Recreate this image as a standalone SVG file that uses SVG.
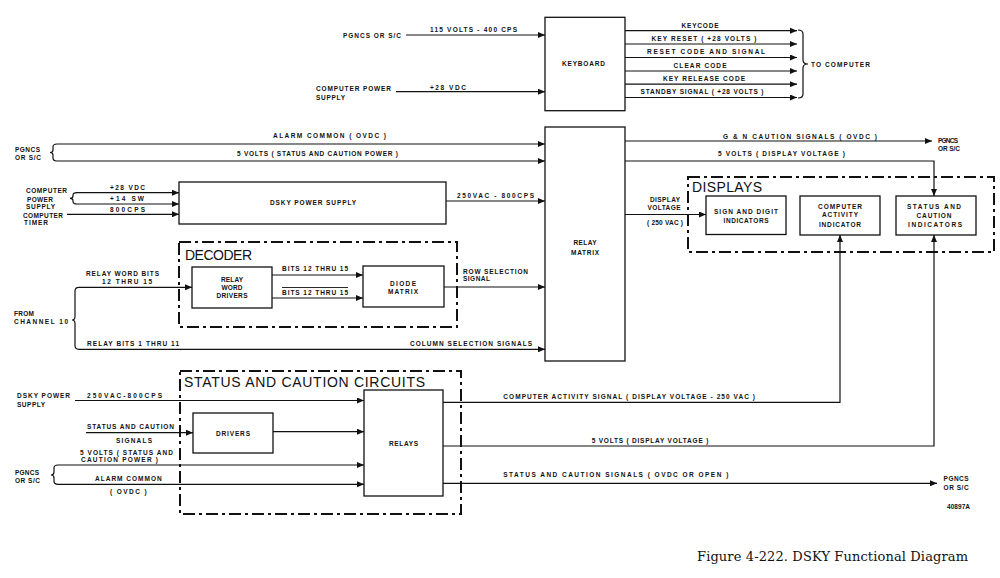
<svg xmlns="http://www.w3.org/2000/svg" width="1000" height="578" viewBox="0 0 1000 578">
<defs>
<marker id="a" markerUnits="userSpaceOnUse" markerWidth="7" markerHeight="6" refX="7" refY="3" orient="auto"><path d="M0,0 L7,3 L0,6 z" fill="#111"/></marker>
<style>
.t{font-family:"Liberation Sans",Arial,sans-serif;font-size:6.5px;font-weight:bold;fill:#111}
.m{text-anchor:middle}
.big{font-family:"Liberation Sans",Arial,sans-serif;font-size:14px;fill:#111}
.box{fill:none;stroke:#111;stroke-width:1.3}
.grp{fill:none;stroke:#111;stroke-width:2;stroke-dasharray:12 4 3 4}
.ln{fill:none;stroke:#111;stroke-width:1.2}
.ar{marker-end:url(#a)}
.cap{font-family:"DejaVu Serif","Liberation Serif",serif;font-size:13px;fill:#111}
</style>
</defs>
<rect width="1000" height="578" fill="#fff"/>

<g id="connectors">
  <line class="ln ar" x1="406" y1="35" x2="545" y2="35"/>
  <line class="ln ar" x1="396" y1="91.7" x2="545" y2="91.7"/>
  <line class="ln ar" x1="625" y1="30.7" x2="797" y2="30.7"/>
  <line class="ln ar" x1="625" y1="44" x2="797" y2="44"/>
  <line class="ln ar" x1="625" y1="57.5" x2="797" y2="57.5"/>
  <line class="ln ar" x1="625" y1="71" x2="797" y2="71"/>
  <line class="ln ar" x1="625" y1="84.2" x2="797" y2="84.2"/>
  <line class="ln ar" x1="625" y1="97.5" x2="797" y2="97.5"/>
  <path class="ln" d="M798,30 Q803,30 803,34 L803,60 Q803,64 808,64 Q803,64 803,68 L803,94 Q803,98 798,98"/>
  <path class="ln" d="M57,144 Q53,144 53,147 L53,150 Q53,152.5 50,152.5 Q53,152.5 53,155 L53,158 Q53,161 57,161"/>
  <line class="ln ar" x1="57" y1="144" x2="545" y2="144"/>
  <line class="ln ar" x1="57" y1="161" x2="545" y2="161"/>
  <line class="ln ar" x1="625" y1="141" x2="932" y2="141"/>
  <polyline class="ln ar" points="625,161 934,161 934,196"/>
  <line class="ln ar" x1="625" y1="214.5" x2="706" y2="214.5"/>
  <path class="ln" d="M77,192.7 Q73,192.7 73,195 L73,196 Q73,198.3 70,198.3 Q73,198.3 73,200.5 L73,201.5 Q73,204 77,204"/>
  <line class="ln ar" x1="77" y1="192.7" x2="179" y2="192.7"/>
  <line class="ln ar" x1="77" y1="204" x2="179" y2="204"/>
  <line class="ln ar" x1="67" y1="214.3" x2="179" y2="214.3"/>
  <line class="ln ar" x1="446" y1="201" x2="545" y2="201"/>
  <path class="ln" d="M79,287.3 Q75,287.3 75,291 L75,316.5 Q75,320 72,320 Q75,320 75,323.5 L75,345.5 Q75,349.3 79,349.3"/>
  <line class="ln ar" x1="79" y1="287.3" x2="192" y2="287.3"/>
  <line class="ln ar" x1="272" y1="275" x2="363" y2="275"/>
  <line class="ln ar" x1="272" y1="298" x2="363" y2="298"/>
  <line class="ln ar" x1="444" y1="287" x2="545" y2="287"/>
  <line class="ln ar" x1="79" y1="349.3" x2="545" y2="349.3"/>
  <line class="ln ar" x1="75" y1="400.5" x2="364" y2="400.5"/>
  <line class="ln ar" x1="86" y1="432.7" x2="193" y2="432.7"/>
  <line class="ln ar" x1="273" y1="431.7" x2="364" y2="431.7"/>
  <path class="ln" d="M58,465 Q54,465 54,468 L54,472 Q54,475 51,475 Q54,475 54,478 L54,481.3 Q54,484.3 58,484.3"/>
  <line class="ln ar" x1="58" y1="465" x2="364" y2="465"/>
  <line class="ln ar" x1="58" y1="484.3" x2="364" y2="484.3"/>
  <polyline class="ln ar" points="443,402.3 840,402.3 840,235"/>
  <polyline class="ln ar" points="443,446 934,446 934,235"/>
  <line class="ln ar" x1="443" y1="483.3" x2="937" y2="483.3"/>
</g>

<g id="keyboard">
  <rect class="box" x="545" y="17.3" width="80" height="93.4"/>
  <text class="t m" x="583.5" y="66.3" textLength="43" lengthAdjust="spacing">KEYBOARD</text>
</g>
<g id="keyboard-labels">
  <text class="t" x="343" y="38.3" textLength="58" lengthAdjust="spacing">PGNCS OR S/C</text>
  <text class="t" x="430" y="31.6" textLength="87" lengthAdjust="spacing">115 VOLTS - 400 CPS</text>
  <text class="t" x="316" y="91.3" textLength="75" lengthAdjust="spacing">COMPUTER POWER</text>
  <text class="t" x="316" y="99.6" textLength="29" lengthAdjust="spacing">SUPPLY</text>
  <text class="t" x="430" y="89.6" textLength="36" lengthAdjust="spacing">+28 VDC</text>
  <text class="t m" x="700" y="27.5" textLength="37" lengthAdjust="spacing">KEYCODE</text>
  <text class="t m" x="704" y="40.8" textLength="105" lengthAdjust="spacing">KEY RESET ( +28 VOLTS )</text>
  <text class="t m" x="706" y="54.3" textLength="118" lengthAdjust="spacing">RESET CODE AND SIGNAL</text>
  <text class="t m" x="700" y="67.8" textLength="53" lengthAdjust="spacing">CLEAR CODE</text>
  <text class="t m" x="704" y="81" textLength="82" lengthAdjust="spacing">KEY RELEASE CODE</text>
  <text class="t m" x="702" y="94.3" textLength="123" lengthAdjust="spacing">STANDBY SIGNAL ( +28 VOLTS )</text>
  <text class="t" x="811" y="67" textLength="59" lengthAdjust="spacing">TO COMPUTER</text>
</g>

<g id="relay-matrix">
  <rect class="box" x="545" y="127" width="80" height="234"/>
  <text class="t m" x="585" y="245" textLength="23" lengthAdjust="spacing">RELAY</text>
  <text class="t m" x="585" y="254.5" textLength="28" lengthAdjust="spacing">MATRIX</text>
</g>
<g id="matrix-labels">
  <text class="t" x="15" y="151.5" textLength="25" lengthAdjust="spacing">PGNCS</text>
  <text class="t" x="15" y="160" textLength="26" lengthAdjust="spacing">OR S/C</text>
  <text class="t" x="273" y="137.5" textLength="113" lengthAdjust="spacing">ALARM COMMON ( OVDC )</text>
  <text class="t" x="237" y="156" textLength="161" lengthAdjust="spacing">5 VOLTS ( STATUS AND CAUTION POWER )</text>
  <text class="t" x="723" y="138.5" textLength="154" lengthAdjust="spacing">G &amp; N CAUTION SIGNALS ( OVDC )</text>
  <text class="t" x="938" y="142.5" textLength="20" lengthAdjust="spacing">PGNCS</text>
  <text class="t" x="938" y="150.5" textLength="22" lengthAdjust="spacing">OR S/C</text>
  <text class="t" x="718" y="155.5" textLength="127" lengthAdjust="spacing">5 VOLTS ( DISPLAY VOLTAGE )</text>
  <text class="t m" x="665" y="201.5" textLength="30" lengthAdjust="spacing">DISPLAY</text>
  <text class="t m" x="664" y="210" textLength="33" lengthAdjust="spacing">VOLTAGE</text>
  <text class="t m" x="665" y="224.5" textLength="36" lengthAdjust="spacing">( 250 VAC )</text>
</g>

<g id="displays">
  <rect class="grp" x="688" y="177" width="306" height="75"/>
  <text class="big" x="692" y="191.5" textLength="70" lengthAdjust="spacing">DISPLAYS</text>
</g>
<g id="sign-digit">
  <rect class="box" x="706" y="196" width="80" height="38.5"/>
  <text class="t m" x="746" y="213.5" textLength="64" lengthAdjust="spacing">SIGN AND DIGIT</text>
  <text class="t m" x="746" y="222.5" textLength="45" lengthAdjust="spacing">INDICATORS</text>
</g>
<g id="computer-activity">
  <rect class="box" x="800" y="196" width="80" height="39"/>
  <text class="t m" x="840" y="208.5" textLength="44" lengthAdjust="spacing">COMPUTER</text>
  <text class="t m" x="840" y="216.8" textLength="36" lengthAdjust="spacing">ACTIVITY</text>
  <text class="t m" x="840" y="226.5" textLength="42" lengthAdjust="spacing">INDICATOR</text>
</g>
<g id="status-indicators">
  <rect class="box" x="896" y="196" width="80" height="39"/>
  <text class="t m" x="934" y="209" textLength="54" lengthAdjust="spacing">STATUS AND</text>
  <text class="t m" x="934" y="217.5" textLength="35" lengthAdjust="spacing">CAUTION</text>
  <text class="t m" x="935" y="226.5" textLength="54" lengthAdjust="spacing">INDICATORS</text>
</g>

<g id="dsky-power-supply">
  <rect class="box" x="179" y="182" width="267" height="42"/>
  <text class="t m" x="313" y="205" textLength="86" lengthAdjust="spacing">DSKY POWER SUPPLY</text>
</g>
<g id="power-labels">
  <text class="t" x="26" y="193" textLength="41" lengthAdjust="spacing">COMPUTER</text>
  <text class="t" x="27" y="201.5" textLength="26" lengthAdjust="spacing">POWER</text>
  <text class="t" x="26" y="209" textLength="29" lengthAdjust="spacing">SUPPLY</text>
  <text class="t" x="23" y="217.5" textLength="40" lengthAdjust="spacing">COMPUTER</text>
  <text class="t" x="24" y="225" textLength="24" lengthAdjust="spacing">TIMER</text>
  <text class="t" x="110" y="189.5" textLength="35" lengthAdjust="spacing">+28 VDC</text>
  <text class="t" x="110" y="200.5" textLength="34" lengthAdjust="spacing">+14 SW</text>
  <text class="t" x="110" y="211.5" textLength="35" lengthAdjust="spacing">800CPS</text>
  <text class="t" x="457" y="197.5" textLength="77" lengthAdjust="spacing">250VAC - 800CPS</text>
</g>

<g id="decoder">
  <rect class="grp" x="179" y="242" width="278" height="85"/>
  <text class="big" x="185" y="260" font-size="13.5" textLength="67" lengthAdjust="spacing">DECODER</text>
</g>
<g id="relay-word-drivers">
  <rect class="box" x="192" y="267" width="80" height="41"/>
  <text class="t m" x="232" y="281.5" textLength="22" lengthAdjust="spacing">RELAY</text>
  <text class="t m" x="232" y="289.5" textLength="21" lengthAdjust="spacing">WORD</text>
  <text class="t m" x="232" y="298" textLength="31" lengthAdjust="spacing">DRIVERS</text>
</g>
<g id="diode-matrix">
  <rect class="box" x="363" y="266" width="81" height="41"/>
  <text class="t m" x="403" y="285.5" textLength="26" lengthAdjust="spacing">DIODE</text>
  <text class="t m" x="403" y="294" textLength="30" lengthAdjust="spacing">MATRIX</text>
</g>
<g id="decoder-labels">
  <text class="t" x="86" y="276" textLength="73" lengthAdjust="spacing">RELAY WORD BITS</text>
  <text class="t" x="102" y="284" textLength="50" lengthAdjust="spacing">12 THRU 15</text>
  <text class="t" x="282" y="270.5" textLength="66" lengthAdjust="spacing">BITS 12 THRU 15</text>
  <line x1="282" y1="287.5" x2="348" y2="287.5" stroke="#111" stroke-width="0.9"/>
  <text class="t" x="282" y="294.5" textLength="66" lengthAdjust="spacing">BITS 12 THRU 15</text>
  <text class="t" x="463" y="273.5" textLength="65" lengthAdjust="spacing">ROW SELECTION</text>
  <text class="t" x="463" y="280.5" textLength="27" lengthAdjust="spacing">SIGNAL</text>
  <text class="t" x="14" y="315.5" textLength="20" lengthAdjust="spacing">FROM</text>
  <text class="t" x="14" y="324" textLength="54" lengthAdjust="spacing">CHANNEL 10</text>
  <text class="t" x="87" y="345.5" textLength="92" lengthAdjust="spacing">RELAY BITS  1 THRU  11</text>
  <text class="t" x="410" y="345.5" textLength="122" lengthAdjust="spacing">COLUMN SELECTION SIGNALS</text>
</g>

<g id="status-caution-circuits">
  <rect class="grp" x="180" y="371" width="281" height="143"/>
  <text class="big" x="184" y="386.5" textLength="241" lengthAdjust="spacing">STATUS AND CAUTION CIRCUITS</text>
</g>
<g id="drivers">
  <rect class="box" x="193" y="413" width="80" height="40"/>
  <text class="t m" x="233" y="435.5" textLength="34" lengthAdjust="spacing">DRIVERS</text>
</g>
<g id="relays">
  <rect class="box" x="364" y="390" width="79" height="106"/>
  <text class="t m" x="403.5" y="446" textLength="29" lengthAdjust="spacing">RELAYS</text>
</g>
<g id="status-labels">
  <text class="t" x="17" y="398" textLength="53" lengthAdjust="spacing">DSKY POWER</text>
  <text class="t" x="17" y="406.5" textLength="28" lengthAdjust="spacing">SUPPLY</text>
  <text class="t" x="87" y="397.5" textLength="75" lengthAdjust="spacing">250VAC-800CPS</text>
  <text class="t" x="87" y="429" textLength="87" lengthAdjust="spacing">STATUS AND CAUTION</text>
  <text class="t" x="116" y="442.5" textLength="36" lengthAdjust="spacing">SIGNALS</text>
  <text class="t" x="80" y="455" textLength="93" lengthAdjust="spacing">5 VOLTS ( STATUS AND</text>
  <text class="t" x="81" y="462" textLength="77" lengthAdjust="spacing">CAUTION POWER )</text>
  <text class="t" x="15" y="475" textLength="24" lengthAdjust="spacing">PGNCS</text>
  <text class="t" x="15" y="483.3" textLength="25" lengthAdjust="spacing">OR S/C</text>
  <text class="t" x="95" y="480.6" textLength="66.7" lengthAdjust="spacing">ALARM COMMON</text>
  <text class="t" x="110" y="494" textLength="36.7" lengthAdjust="spacing">( OVDC )</text>
  <text class="t" x="503.3" y="399" textLength="251.7" lengthAdjust="spacing">COMPUTER ACTIVITY SIGNAL ( DISPLAY VOLTAGE - 250 VAC )</text>
  <text class="t" x="591.7" y="442.5" textLength="116.6" lengthAdjust="spacing">5 VOLTS ( DISPLAY VOLTAGE )</text>
  <text class="t" x="503.3" y="477" textLength="225" lengthAdjust="spacing">STATUS AND CAUTION SIGNALS ( OVDC OR OPEN )</text>
  <text class="t" x="943.6" y="480.5" textLength="25" lengthAdjust="spacing">PGNCS</text>
  <text class="t" x="943.6" y="489.5" textLength="25" lengthAdjust="spacing">OR S/C</text>
  <text class="t" x="947" y="509" font-size="5.5" textLength="23" lengthAdjust="spacing">40897A</text>
</g>

<text class="cap" x="697" y="561" textLength="271" lengthAdjust="spacing">Figure 4-222.  DSKY Functional Diagram</text>
</svg>
